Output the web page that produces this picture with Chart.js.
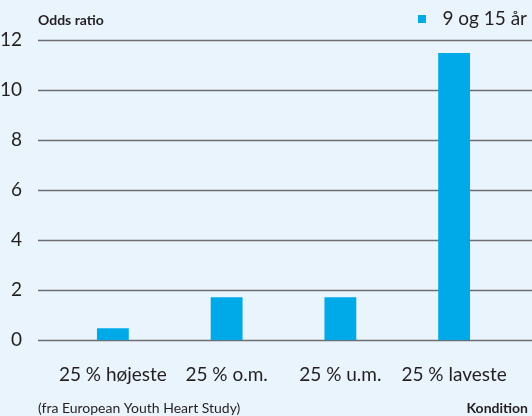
<!DOCTYPE html>
<html>
<head>
<meta charset="utf-8">
<script src="https://cdn.jsdelivr.net/npm/chart.js@4"></script>
<style>
  html, body { margin: 0; padding: 0; background: #eaf4fd; }
  #wrap { width: 532px; height: 416px; position: relative; }
</style>
</head>
<body>
<div id="wrap"><canvas id="chart"></canvas></div>
<script>
const categories = ["25 % højeste", "25 % o.m.", "25 % u.m.", "25 % laveste"];
const seriesName = "9 og 15 år";
const oddsRatio = [0.48, 1.72, 1.72, 11.48];
const yTicks = [0, 2, 4, 6, 8, 10, 12];

const FONT = "Lato, 'Open Sans', sans-serif";
const TEXT = "#231f20";
const BAR = "#00aae9";

// gridlines run wider than the bar area, so draw them by hand from the y scale
const extras = {
  id: "extras",
  beforeDatasetsDraw(chart) {
    const ctx = chart.ctx;
    const y = chart.scales.y;
    ctx.save();
    ctx.strokeStyle = "#6d6e71";
    ctx.lineWidth = 1.6;
    yTicks.forEach(v => {
      const py = Math.round(y.getPixelForValue(v)) + 0.5;
      ctx.beginPath();
      ctx.moveTo(38, py);
      ctx.lineTo(532, py);
      ctx.stroke();
    });
    // y tick labels
    ctx.fillStyle = TEXT;
    ctx.font = "19px " + FONT;
    ctx.textAlign = "right";
    ctx.textBaseline = "middle";
    yTicks.forEach(v => ctx.fillText(String(v), 22, y.getPixelForValue(v)));
    ctx.restore();
  },
  afterDraw(chart) {
    const ctx = chart.ctx;
    ctx.save();
    ctx.fillStyle = TEXT;
    ctx.textBaseline = "middle";
    ctx.font = "bold 14px " + FONT;
    ctx.textAlign = "left";
    ctx.fillText("Odds ratio", 38, 20);
    ctx.font = "14px " + FONT;
    ctx.fillText("(fra European Youth Heart Study)", 38, 408);
    ctx.font = "bold 14px " + FONT;
    ctx.textAlign = "right";
    ctx.fillText("Kondition", 528, 408);
    // legend
    ctx.font = "19px " + FONT;
    ctx.fillText(chart.data.datasets[0].label, 527, 19);
    ctx.fillStyle = chart.data.datasets[0].backgroundColor;
    ctx.fillRect(418, 15, 8, 8);
    ctx.restore();
  }
};

new Chart(document.getElementById("chart"), {
  type: "bar",
  data: {
    labels: categories,
    datasets: [{
      label: seriesName,
      data: oddsRatio,
      backgroundColor: BAR,
      barPercentage: 0.28,
      categoryPercentage: 1
    }]
  },
  options: {
    responsive: true,
    maintainAspectRatio: false,
    animation: false,
    layout: { padding: { left: 56, right: 21, top: 40, bottom: 15 } },
    plugins: {
      legend: { display: false },
      tooltip: { enabled: false }
    },
    scales: {
      x: {
        grid: { display: false },
        border: { display: false },
        ticks: { color: TEXT, font: { family: FONT, size: 19 }, padding: 15, maxRotation: 0 }
      },
      y: {
        display: true,
        min: 0,
        max: 12,
        grid: { display: false, drawTicks: false },
        border: { display: false },
        ticks: { display: false }
      }
    }
  },
  plugins: [extras]
});
</script>
</body>
</html>
